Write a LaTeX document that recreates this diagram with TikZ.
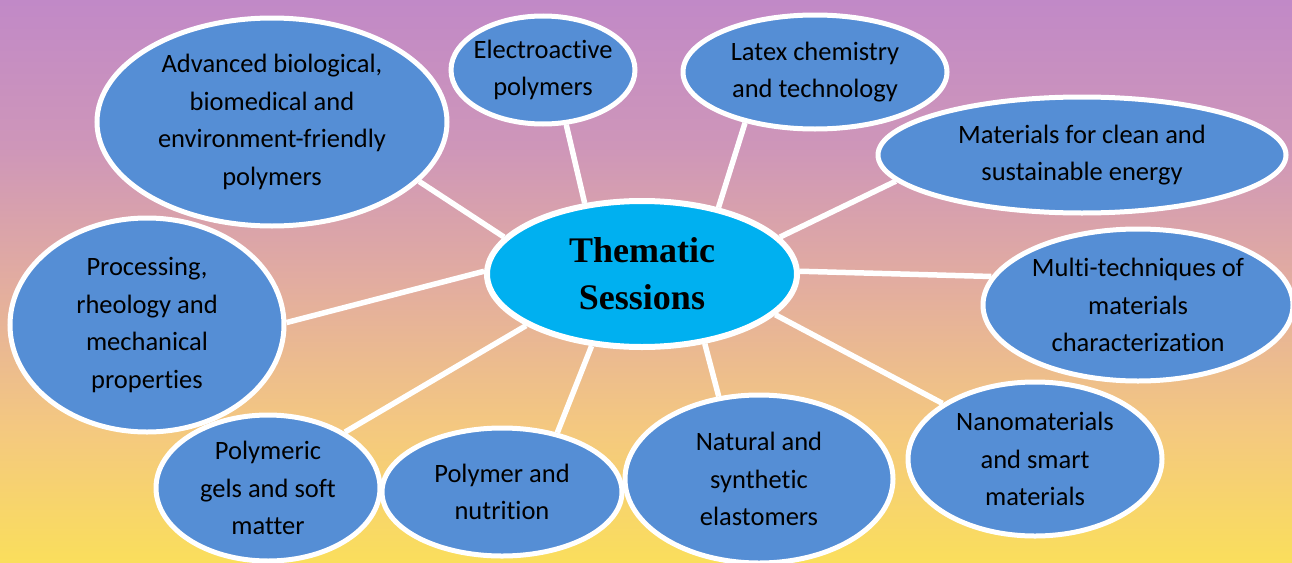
\documentclass[tikz,border=0pt]{standalone}
\usepackage{fontspec}
\setmainfont{Carlito}[Ligatures=CommonOff]
\newfontfamily\titlefont{Liberation Serif}
\usetikzlibrary{shapes.geometric,backgrounds}
\definecolor{bgA}{RGB}{250,222,92}
\definecolor{bgB}{RGB}{244,200,128}
\definecolor{bgC}{RGB}{226,172,160}
\definecolor{bgD}{RGB}{206,150,185}
\definecolor{bgE}{RGB}{193,137,199}
\definecolor{blobblue}{RGB}{85,142,213}
\definecolor{centercyan}{RGB}{0,176,240}
\pgfdeclareverticalshading{bgshade}{100bp}{color(0bp)=(bgA); color(25bp)=(bgA); color(37bp)=(bgB); color(50bp)=(bgC); color(62bp)=(bgD); color(75bp)=(bgE); color(100bp)=(bgE)}
\tikzset{
  blob/.style={ellipse, draw=white, line width=5pt, fill=blobblue, inner sep=-50pt,
    align=center, text=black, font=\fontsize{26.5}{37.5}\selectfont},
  hub/.style={ellipse, draw=white, line width=6pt, fill=centercyan, inner sep=-40pt,
    align=center, text=black, font=\titlefont\bfseries\fontsize{36}{47}\selectfont},
  spoke/.style={draw=white, line width=5.5pt}
}
\begin{document}
\begin{tikzpicture}[x=1pt,y=-1pt]
\useasboundingbox (0,0) rectangle (1292,562);

\node[hub, minimum width=310pt, minimum height=146pt] (c) at (642,274) {Thematic\\Sessions};

\node[blob, minimum width=350pt, minimum height=208pt] (adv) at (272,122) {Advanced biological,\\biomedical and\\environment-friendly\\polymers};
\node[blob, minimum width=184pt, minimum height=108pt] (ele) at (543,70) {Electroactive\\polymers};
\node[blob, minimum width=264pt, minimum height=114pt] (lat) at (815,72) {Latex chemistry\\and technology};
\node[blob, minimum width=408pt, minimum height=116pt] (mat) at (1082,155) {Materials for clean and\\sustainable energy};
\node[blob, minimum width=310pt, minimum height=152pt] (mul) at (1138,305) {Multi-techniques of\\materials\\characterization};
\node[blob, minimum width=254pt, minimum height=154pt] (nan) at (1035,459) {Nanomaterials\\and smart\\materials};
\node[blob, minimum width=268pt, minimum height=168pt] (nat) at (759,479) {Natural and\\synthetic\\elastomers};
\node[blob, minimum width=240pt, minimum height=128pt] (nut) at (502,492) {Polymer and\\nutrition};
\node[blob, minimum width=224pt, minimum height=146pt] (gel) at (268,488) {Polymeric\\gels and soft\\matter};
\node[blob, minimum width=274pt, minimum height=214pt] (pro) at (147,325) {Processing,\\rheology and\\mechanical\\properties};

\begin{scope}[on background layer]
\fill[shading=bgshade] (0,0) rectangle (1292,562);
\draw[spoke] (c.165) -- (adv.-22);
\draw[spoke] (c.129) -- (ele.-67);
\draw[spoke] (c.41) -- (lat.216);
\draw[spoke] (c.15) -- (mat.188);
\draw[spoke] (c.1) -- (mul.169);
\draw[spoke] (c.-17) -- (nan.149);
\draw[spoke] (c.-48) -- (nat.116);
\draw[spoke] (c.-125) -- (nut.47);
\draw[spoke] (c.-156) -- (gel.36);
\draw[spoke] (c.179) -- (pro.1);
\end{scope}
\end{tikzpicture}
\end{document}
